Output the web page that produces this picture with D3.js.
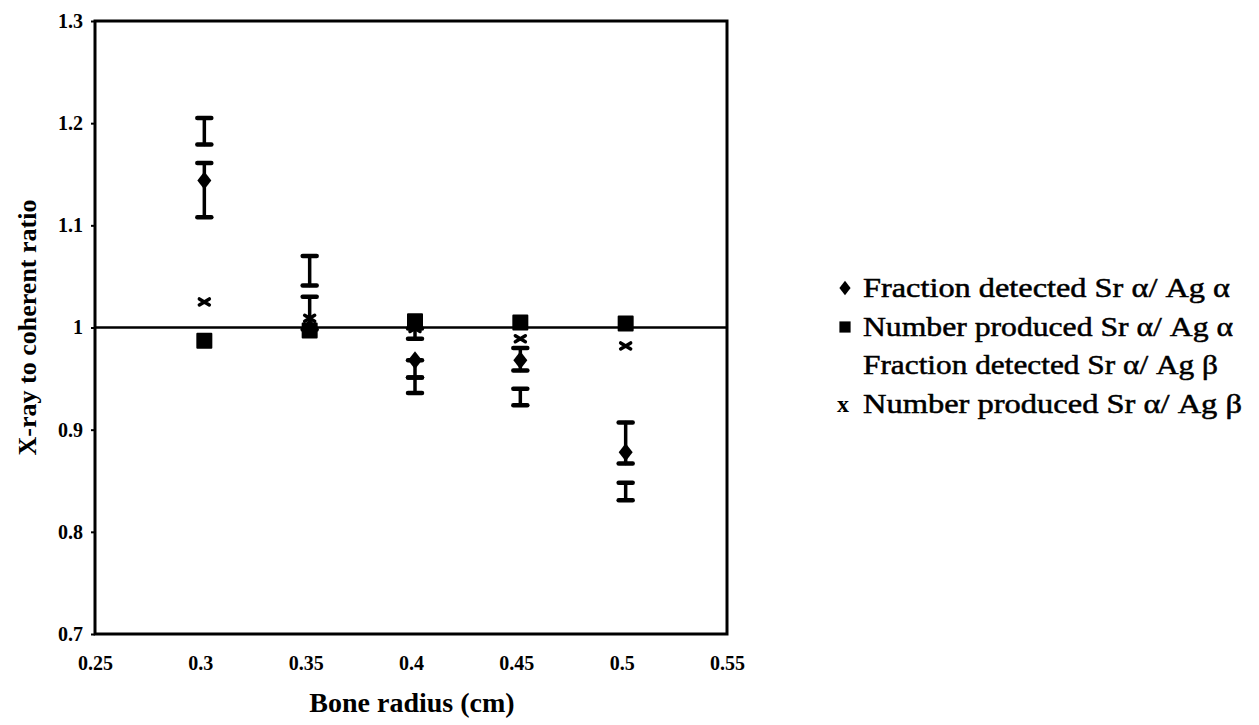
<!DOCTYPE html>
<html>
<head>
<meta charset="utf-8">
<script src="https://cdn.jsdelivr.net/npm/d3@7"></script>
<style>
  body { margin: 0; background: #fff; }
  svg { display: block; }
  text { font-family: "Liberation Serif", "Times New Roman", serif; fill: #000; }
</style>
</head>
<body>
<script>
  // bone radius (cm)
  var radius = [0.3, 0.35, 0.4, 0.45, 0.5];

  // fraction detected Sr a / Ag a  (diamonds)
  var fracAlpha   = [1.144, 1.000, 0.968, 0.968, 0.878];
  var fracAlphaLo = [1.108, 0.998, 0.951, 0.958, 0.867];
  var fracAlphaHi = [1.161, 1.030, 0.968, 0.980, 0.907];

  // number produced Sr a / Ag a  (squares)
  var numAlpha = [0.987, 0.997, 1.006, 1.005, 1.004];

  // fraction detected Sr a / Ag b  (no marker, error bars only)
  var fracBeta   = [1.192, 1.055, 0.943, 0.932, 0.840];
  var fracBetaLo = [1.179, 1.041, 0.936, 0.924, 0.831];
  var fracBetaHi = [1.205, 1.070, 0.951, 0.940, 0.848];

  // number produced Sr a / Ag b  (x)
  var numBeta   = [1.025, 1.009, 0.999, 0.989, 0.982];
  var numBetaLo = [1.025, 1.009, 0.989, 0.989, 0.982];
  var numBetaHi = [1.025, 1.009, 0.999, 0.989, 0.982];

  var xTicks = [0.25, 0.3, 0.35, 0.4, 0.45, 0.5, 0.55];
  var yTicks = [0.7, 0.8, 0.9, 1, 1.1, 1.2, 1.3];
  var refLine = 1;

  var legendLabels = [
    "Fraction detected Sr \u03b1/ Ag \u03b1",
    "Number produced Sr \u03b1/ Ag \u03b1",
    "Fraction detected Sr \u03b1/ Ag \u03b2",
    "Number produced Sr \u03b1/ Ag \u03b2"
  ];

  var width = 1259, height = 725;
  var plotLeft = 95, plotRight = 727, plotTop = 21, plotBottom = 634;

  var svg = d3.select("body")
    .append("svg")
    .attr("width", width)
    .attr("height", height);

  var x = d3.scaleLinear().domain([0.25, 0.55]).range([plotLeft, plotRight]);
  var y = d3.scaleLinear().domain([0.7, 1.3]).range([plotBottom, plotTop]);

  var fmt = function(d) { return String(+d.toFixed(2)); };

  var xAxis = svg.append("g")
    .attr("transform", "translate(0," + plotBottom + ")")
    .call(d3.axisBottom(x).tickValues(xTicks).tickFormat(fmt).tickSize(0).tickPadding(22));
  xAxis.select(".domain").remove();
  xAxis.selectAll("text")
    .style("font-family", "Liberation Serif")
    .style("font-weight", "bold")
    .style("font-size", "20px");

  var yAxis = svg.append("g")
    .attr("transform", "translate(" + plotLeft + ",0)")
    .call(d3.axisLeft(y).tickValues(yTicks).tickFormat(fmt).tickSize(4).tickPadding(8));
  yAxis.select(".domain").remove();
  yAxis.selectAll("line").attr("stroke", "#000").attr("stroke-width", 2);
  yAxis.selectAll("text")
    .style("font-family", "Liberation Serif")
    .style("font-weight", "bold")
    .style("font-size", "20px");

  // plot frame
  svg.append("rect")
    .attr("x", plotLeft)
    .attr("y", plotTop)
    .attr("width", plotRight - plotLeft)
    .attr("height", plotBottom - plotTop)
    .attr("fill", "none")
    .attr("stroke", "#000")
    .attr("stroke-width", 3);

  // ratio = 1 line
  svg.append("line")
    .attr("x1", plotLeft).attr("x2", plotRight)
    .attr("y1", y(refLine)).attr("y2", y(refLine))
    .attr("stroke", "#000")
    .attr("stroke-width", 2.5);

  function errorBars(lo, hi) {
    var g = svg.append("g").attr("stroke", "#000").attr("stroke-linecap", "round");
    radius.forEach(function(r, i) {
      if (hi[i] - lo[i] < 0.002) return;
      var cx = x(r) + 4;
      g.append("line")
        .attr("x1", cx).attr("x2", cx)
        .attr("y1", y(lo[i])).attr("y2", y(hi[i]))
        .attr("stroke-width", 3.5);
      [lo[i], hi[i]].forEach(function(v) {
        g.append("line")
          .attr("x1", cx - 7).attr("x2", cx + 7)
          .attr("y1", y(v)).attr("y2", y(v))
          .attr("stroke-width", 4.5);
      });
    });
  }

  errorBars(fracBetaLo, fracBetaHi);
  errorBars(fracAlphaLo, fracAlphaHi);
  errorBars(numBetaLo, numBetaHi);

  var diamond = "M0,-9L7,0L0,9L-7,0Z";
  var square = "M-7,-7H7V7H-7Z";
  var cross = "M-5,-3L5,3M-5,3L5,-3";

  svg.selectAll(".sq")
    .data(numAlpha)
    .enter()
    .append("path")
    .attr("class", "sq")
    .attr("d", square)
    .attr("transform", function(d, i) { return "translate(" + (x(radius[i]) + 4) + "," + y(d) + ")"; })
    .attr("fill", "#000")
    .attr("stroke", "#000")
    .attr("stroke-width", 2)
    .attr("stroke-linejoin", "round");

  svg.selectAll(".dm")
    .data(fracAlpha)
    .enter()
    .append("path")
    .attr("class", "dm")
    .attr("d", diamond)
    .attr("transform", function(d, i) { return "translate(" + (x(radius[i]) + 4) + "," + y(d) + ")"; })
    .attr("fill", "#000");

  svg.selectAll(".xx")
    .data(numBeta)
    .enter()
    .append("path")
    .attr("class", "xx")
    .attr("d", cross)
    .attr("transform", function(d, i) { return "translate(" + (x(radius[i]) + 4) + "," + y(d) + ")"; })
    .attr("fill", "none")
    .attr("stroke", "#000")
    .attr("stroke-width", 3.5)
    .attr("stroke-linecap", "round");

  // axis titles
  svg.append("text")
    .attr("x", 412)
    .attr("y", 712)
    .attr("text-anchor", "middle")
    .style("font-weight", "bold")
    .style("font-size", "28px")
    .text("Bone radius (cm)");

  svg.append("text")
    .attr("transform", "translate(36," + ((plotTop + plotBottom) / 2) + ") rotate(-90)")
    .attr("text-anchor", "middle")
    .style("font-weight", "bold")
    .style("font-size", "26px")
    .text("X-ray to coherent ratio");

  // legend
  var legend = svg.append("g");
  var legendY = [288, 327, 365, 404];
  var legendWidth = [367, 370, 355, 379];
  var legendMarks = [diamond, square, null, null];

  legendLabels.forEach(function(label, i) {
    legend.append("text")
      .attr("x", 863)
      .attr("y", legendY[i])
      .attr("dy", "0.35em")
      .attr("textLength", legendWidth[i])
      .attr("lengthAdjust", "spacingAndGlyphs")
      .attr("stroke", "#000")
      .attr("stroke-width", 0.5)
      .style("font-size", "27px")
      .text(label);
    if (legendMarks[i]) {
      legend.append("path")
        .attr("d", legendMarks[i])
        .attr("transform", "translate(845," + legendY[i] + ") scale(0.8)")
        .attr("fill", "#000");
    }
  });
  legend.append("text")
    .attr("x", 843)
    .attr("y", legendY[3])
    .attr("dy", "0.35em")
    .attr("text-anchor", "middle")
    .style("font-size", "24px")
    .style("font-weight", "bold")
    .text("x");
</script>
</body>
</html>
